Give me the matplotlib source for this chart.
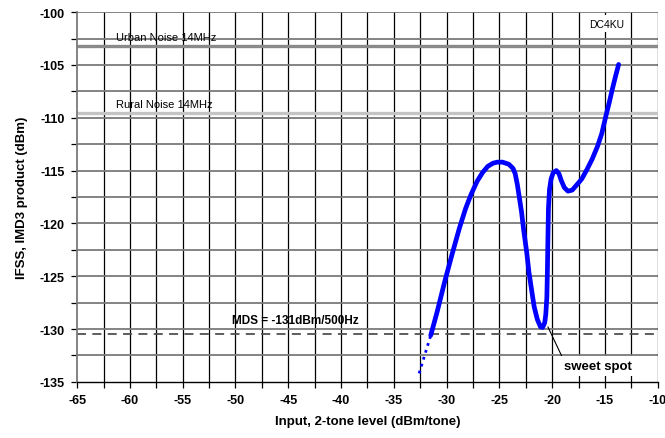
import matplotlib
matplotlib.use('Agg')
import matplotlib.pyplot as plt
import numpy as np

plt.rcParams['font.family'] = ['Liberation Sans', 'DejaVu Sans']
plt.rcParams['axes.unicode_minus'] = False

# IMD3 curve (input dBm/tone, IMD3 dBm)
imd_x = [-31.5, -30.9, -30.2, -29.5, -28.8, -28.2, -27.7, -27.1, -26.6, -26.1,
         -25.6, -25.2, -24.7, -24.1, -23.7, -23.5, -23.3, -23.1, -22.9, -22.7,
         -22.4, -22.2, -21.9, -21.7, -21.4, -21.1, -20.9, -20.7, -20.6, -20.5,
         -20.45, -20.4, -20.35, -20.25, -20.1, -19.9, -19.6, -19.35, -19.15,
         -18.85, -18.5, -18.1, -17.75, -17.2, -16.7, -16.2, -15.7, -15.3,
         -14.9, -14.6, -14.3, -14.0, -13.7]
imd_y = [-130.6, -128.4, -125.6, -123.0, -120.5, -118.6, -117.3, -116.0, -115.2, -114.6,
         -114.3, -114.2, -114.2, -114.4, -114.8, -115.3, -116.3, -117.6, -118.9, -120.6,
         -122.8, -124.6, -126.6, -127.9, -129.1, -129.8, -129.85, -129.4, -128.6, -127.0,
         -124.6, -121.5, -118.6, -116.8, -115.8, -115.2, -115.0, -115.3, -115.9,
         -116.6, -116.95, -116.85, -116.45, -115.8, -114.9, -113.9, -112.7, -111.5,
         -109.8, -108.6, -107.3, -106.1, -104.95]
# dotted extrapolation below MDS
ext_x = [-32.6, -31.5]
ext_y = [-134.2, -130.6]

urban_noise = -103.2
rural_noise = -109.5
mds_level = -130.5

x_ticks = [-65, -60, -55, -50, -45, -40, -35, -30, -25, -20, -15, -10]
y_ticks = [-135, -130, -125, -120, -115, -110, -105, -100]

fig = plt.figure(figsize=(6.65, 4.39), dpi=100)
ax = fig.add_axes([0.116, 0.128, 0.873, 0.842])
ax.set_xlim(-65, -10)
ax.set_ylim(-135, -100)

# grid every 2.5
for gx in np.arange(-62.5, -10, 2.5):
    ax.axvline(gx, color='black', lw=0.9, zorder=1)
for gy in np.arange(-132.5, -99, 2.5):
    ax.axhline(gy, color='#7a7a7a', lw=1.3, zorder=1)
ax.axvline(-10, color='black', lw=0.9, zorder=1)

ax.axhline(urban_noise, color='#8a8a8a', lw=2.4, zorder=2)
ax.axhline(rural_noise, color='#c4c4c4', lw=2.4, zorder=2)
ax.axhline(mds_level, color='#505050', lw=1.3, ls=(0, (5, 3.5)), zorder=2)

ax.plot(imd_x, imd_y, color='#0000ff', lw=3.4, solid_joinstyle='round',
        solid_capstyle='round', zorder=4)
ax.plot(ext_x, ext_y, color='#0000ff', lw=2.0, ls=(0, (1, 1.6)), zorder=4)

ax.text(-61.3, urban_noise + 0.35, 'Urban Noise 14MHz', fontsize=8, va='bottom', zorder=3)
ax.text(-61.3, rural_noise + 0.35, 'Rural Noise 14MHz', fontsize=8, va='bottom', zorder=3)
ax.text(-50.3, mds_level + 0.8, 'MDS = -131dBm/500Hz', fontsize=8.5, fontweight='bold',
        va='bottom', zorder=3)
ax.text(-14.8, -101.1, 'DC4KU', fontsize=7.5, ha='center', va='center', zorder=3,
        bbox=dict(facecolor='white', edgecolor='none', pad=2.5))
ax.annotate('sweet spot', xy=(-20.4, -129.8), xytext=(-15.7, -133.5),
            fontsize=9.5, fontweight='bold', ha='center', va='center', zorder=5,
            bbox=dict(facecolor='white', edgecolor='none', pad=3),
            arrowprops=dict(arrowstyle='-', color='black', lw=0.8, shrinkA=0, shrinkB=0,
                            relpos=(0.0, 1.0)))

ax.set_xticks(x_ticks)
ax.set_yticks(y_ticks)
ax.set_xticks(np.arange(-65, -9, 2.5), minor=True)
ax.set_yticks(np.arange(-135, -99, 2.5), minor=True)
ax.tick_params(which='both', direction='out', length=4, width=0.9, color='black')
ax.tick_params(which='major', labelsize=9, pad=5)
for lab in ax.get_xticklabels() + ax.get_yticklabels():
    lab.set_fontweight('bold')

for s in ['top', 'right']:
    ax.spines[s].set_visible(False)
ax.spines['left'].set_color('#7a7a7a')
ax.spines['left'].set_linewidth(1.3)
ax.spines['bottom'].set_linewidth(1.0)

ax.set_xlabel('Input, 2-tone level (dBm/tone)', fontsize=9.5, fontweight='bold', labelpad=6)
ax.set_ylabel('IFSS, IMD3 product (dBm)', fontsize=9.5, fontweight='bold', labelpad=8)

fig.savefig('out.png', dpi=100)
